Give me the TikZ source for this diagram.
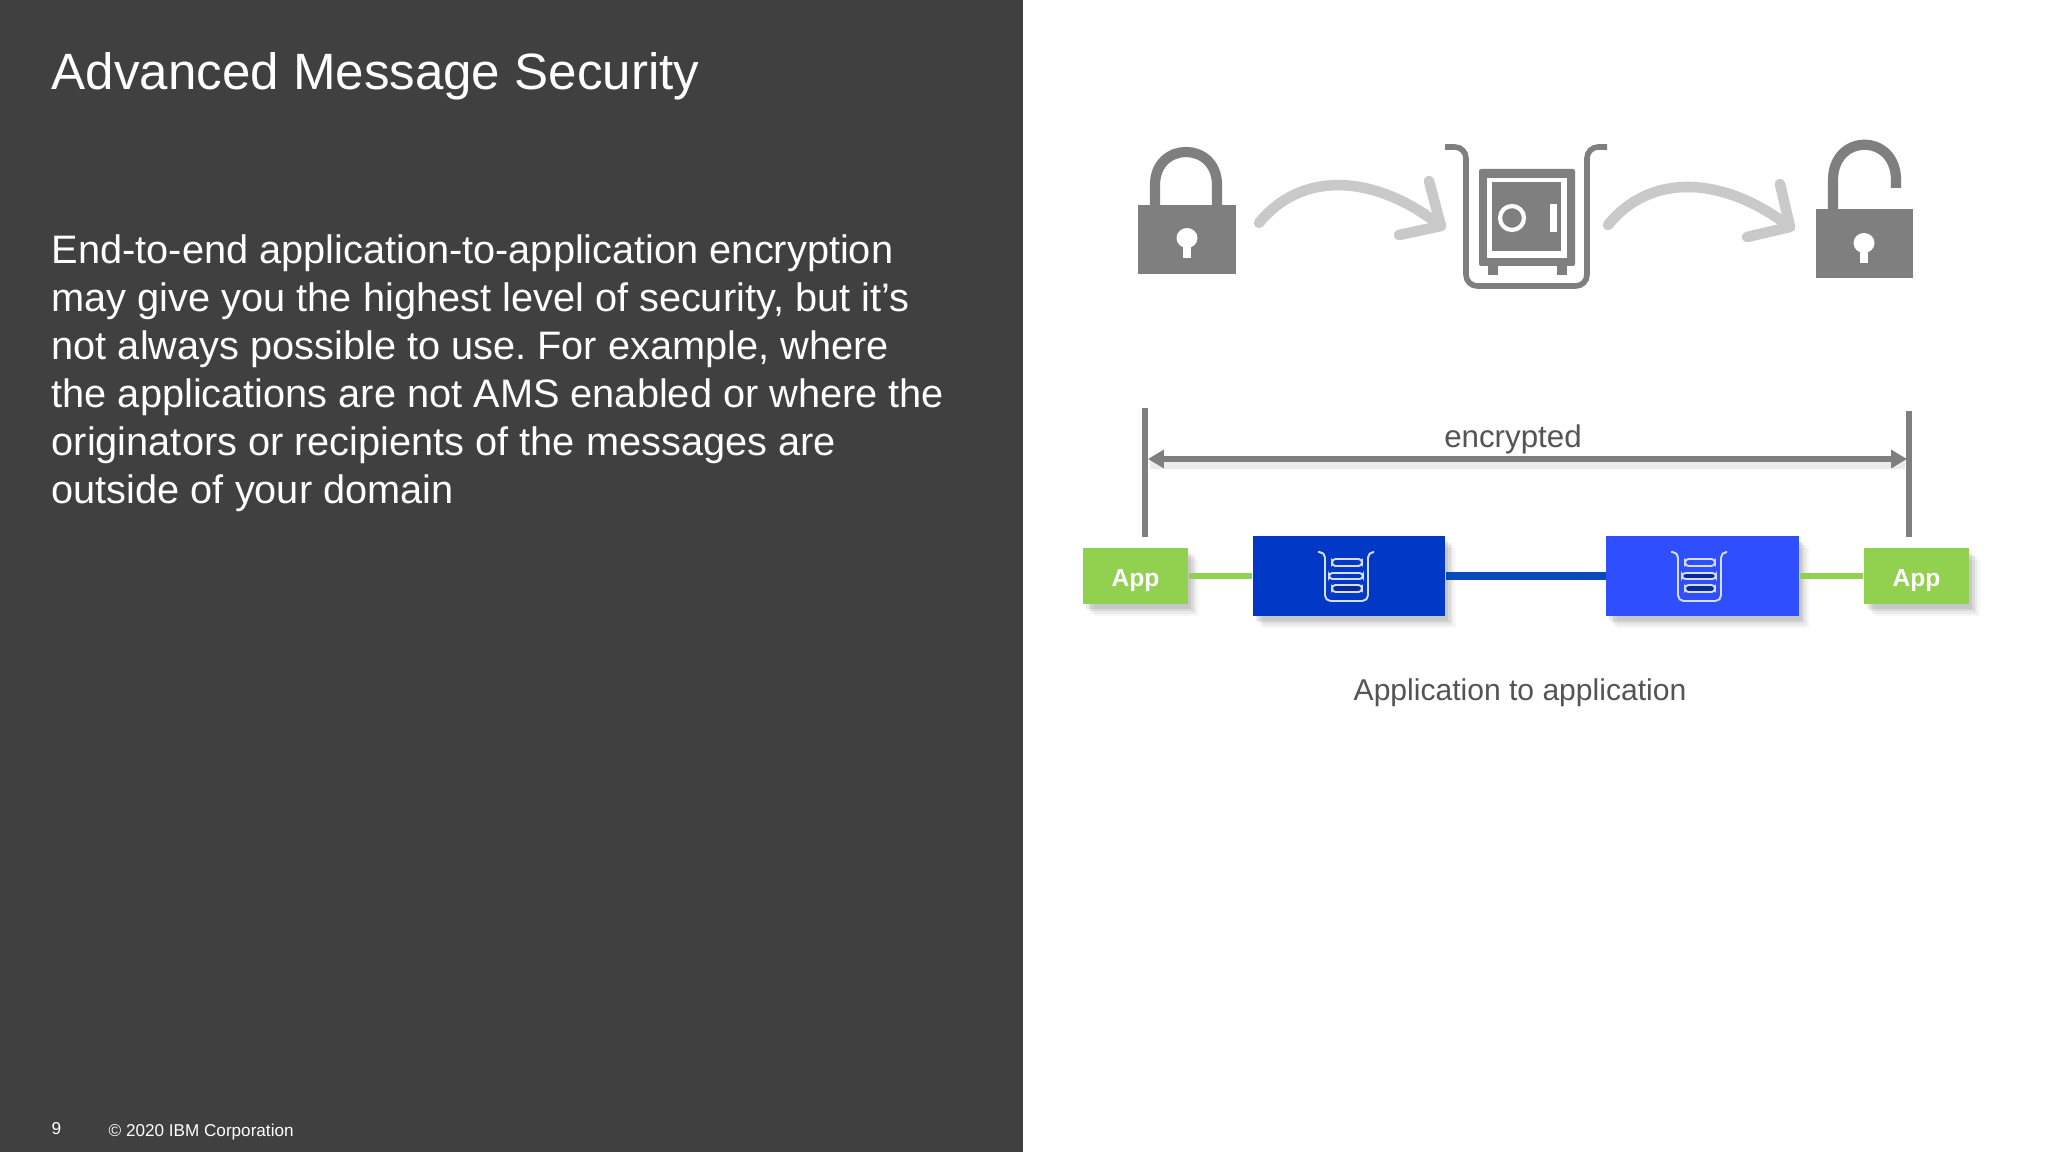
\documentclass[tikz,border=0pt]{standalone}
\usepackage{fontspec}
\setmainfont{Liberation Sans}
\usetikzlibrary{arrows.meta,shadows}

\definecolor{panelgray}{HTML}{404040}
\definecolor{icongray}{HTML}{7F7F7F}
\definecolor{curvegray}{HTML}{C9C9C9}
\definecolor{labelgray}{HTML}{545454}
\definecolor{appgreen}{HTML}{92D050}
\definecolor{qmblue}{HTML}{0238C6}
\definecolor{qmbright}{HTML}{2F4FFF}
\definecolor{linkblue}{HTML}{0A4AB8}
\definecolor{slotdark}{HTML}{0A2A96}
\definecolor{iconline}{HTML}{D5DEFF}

\tikzset{
  softshadow/.style={
    drop shadow={shadow xshift=3pt,shadow yshift=-3.4pt,fill=black,opacity=0.03},
    drop shadow={shadow xshift=2.3pt,shadow yshift=-2.7pt,fill=black,opacity=0.05},
    drop shadow={shadow xshift=1.6pt,shadow yshift=-2pt,fill=black,opacity=0.07},
    drop shadow={shadow xshift=0.9pt,shadow yshift=-1.3pt,fill=black,opacity=0.08}},
  app/.style={rectangle,fill=appgreen,text=white,font=\fontsize{7}{8}\selectfont\bfseries,minimum width=1.05cm,minimum height=0.56cm,inner sep=0,text height=5.7pt,text depth=0pt,softshadow},
  qm/.style={rectangle,minimum width=1.925cm,minimum height=0.8cm,inner sep=0,softshadow},
  greenlink/.style={draw=appgreen,line width=1.7pt},
  bluelink/.style={draw=linkblue,line width=2.3pt},
  bar/.style={draw=icongray,line width=1.7pt},
  barshadow/.style={draw=black,opacity=0.08,line width=2pt},
  curve/.style={draw=curvegray,line width=3pt,line cap=round,line join=round},
  slot/.style={draw=iconline,line width=0.55pt,rounded corners=1pt},
  caption/.style={text=labelgray,inner sep=0}
}

\begin{document}
\begin{tikzpicture}[x=0.01cm,y=-0.01cm]
  \useasboundingbox (0,0) rectangle (2048,1152);
  \fill[white] (0,0) rectangle (2048,1152);
  \fill[panelgray] (0,0) rectangle (1023,1152);

  % left panel
  \node[anchor=base west,inner sep=0,text=white,font=\fontsize{14.53}{16}\selectfont] (title) at (51,90) {Advanced Message Security};
  \node[anchor=north west,inner sep=0,text=white,align=left,font=\fontsize{11.3}{13.63}\selectfont\frenchspacing] (body) at (51,234.5)
    {End-to-end application-to-application encryption\\
     may give you the highest level of security, but it’s\\
     not always possible to use. For example, where\\
     the applications are not AMS enabled or where the\\
     originators or recipients of the messages are\\
     outside of your domain};
  \node[anchor=base west,inner sep=0,text=white,font=\fontsize{4.9}{6}\selectfont] (page) at (51,1134) {9};
  \node[anchor=base west,inner sep=0,text=white,font=\fontsize{4.87}{6}\selectfont] (copy) at (108,1136) {© 2020 IBM Corporation};

  % closed lock
  \draw[icongray,line width=2.9pt] (1155,205) -- (1155,185) .. controls (1155,141) and (1217,141) .. (1217,185) -- (1217,205);
  \fill[icongray] (1138,205) rectangle (1236,274);
  \fill[white] (1187,238) ellipse (10.5 and 10);
  \fill[white] (1183,240) rectangle (1191,258);

  % safe
  \draw[icongray,line width=1.6pt,rounded corners=3.2pt] (1445,147) -- (1466,147) -- (1466,286) -- (1587,286) -- (1587,147) -- (1607,147);
  \fill[icongray,rounded corners=0.6pt] (1479,169) rectangle (1575,266);
  \fill[icongray] (1488,260) rectangle (1498,275);
  \fill[icongray] (1557,260) rectangle (1567,275);
  \fill[white] (1487,178) rectangle (1567,258);
  \fill[icongray] (1492,182) rectangle (1561,251);
  \draw[white,line width=1.2pt] (1512,218) circle [radius=12];
  \fill[white] (1550,204) rectangle (1557,232);

  % open lock
  \draw[icongray,line width=2.9pt] (1833,209) -- (1833,180) .. controls (1833,133) and (1896,133) .. (1896,180) -- (1896,188);
  \fill[icongray] (1816,209) rectangle (1913,278);
  \fill[white] (1864,243) ellipse (10.5 and 10);
  \fill[white] (1860,245) rectangle (1868,263);

  % curved arrows
  \coordinate (a1) at (1259,223);
  \coordinate (b1) at (1441,226);
  \coordinate (a2) at (1608,225);
  \coordinate (b2) at (1790,227);
  \draw[curve] (a1) .. controls (1300,172) and (1372,172) .. (b1);
  \draw[curve] (1429,181) -- (b1) -- (1399,235);
  \draw[curve] (a2) .. controls (1649,174) and (1721,174) .. (b2);
  \draw[curve] (1780,184) -- (b2) -- (1747,237);

  % encrypted span
  \coordinate (topL) at (1145,408);
  \coordinate (botL) at (1145,537);
  \coordinate (topR) at (1909,411);
  \coordinate (botR) at (1909,537);
  \coordinate (tipL) at (1148,459);
  \coordinate (tipR) at (1907,459);
  \draw[barshadow] (1150,465) -- (1905,465);
  \draw[bar] (topL) -- (botL);
  \draw[bar] (topR) -- (botR);
  \draw[bar,{Triangle[length=4.5pt,width=5pt]}-{Triangle[length=4.5pt,width=5pt]}] (tipL) -- (tipR);
  \node[caption,anchor=base,font=\fontsize{8.9}{10}\selectfont] (enc) at (1513,448) {encrypted};

  % queue managers and apps
  \node[app] (app1) at (1135.5,576) {App};
  \node[qm,fill=qmblue] (qm1) at (1349,576) {};
  \node[qm,fill=qmbright] (qm2) at (1702.5,576) {};
  \node[app] (app2) at (1916.5,576) {App};
  \draw[greenlink] (app1) -- (qm1);
  \draw[bluelink] (qm1) -- (qm2);
  \draw[greenlink] (qm2) -- (app2);

  % queue icons
  \foreach \qx/\sa/\sb/\sc in {0/qmblue/qmblue/slotdark,353/qmbright/slotdark/slotdark} {
    \draw[iconline,line width=0.55pt,rounded corners=1.6pt] (1318+\qx,552) -- (1325+\qx,552) -- (1325+\qx,601) -- (1368+\qx,601) -- (1368+\qx,552) -- (1374+\qx,552);
    \draw[slot,fill=\sa] (1332+\qx,559) rectangle (1362+\qx,566);
    \draw[slot,fill=\sb] (1329+\qx,573) rectangle (1363+\qx,579);
    \draw[slot,fill=\sc] (1332+\qx,585) rectangle (1362+\qx,592);
  }

  \node[caption,anchor=base,font=\fontsize{8.55}{10}\selectfont] (cap) at (1520,700) {Application to application};
\end{tikzpicture}
\end{document}
